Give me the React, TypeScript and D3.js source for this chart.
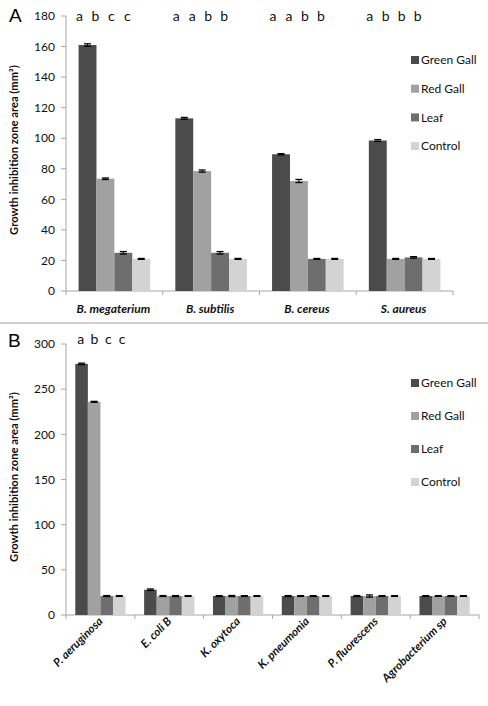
import React from 'react';
import * as d3 from 'd3';

const seriesNames = ['Green Gall', 'Red Gall', 'Leaf', 'Control'];
const seriesColors = ['#4b4b4b', '#a1a1a1', '#6e6e6e', '#d3d3d3'];

const categoriesA = ['B. megaterium', 'B. subtilis', 'B. cereus', 'S. aureus'];
const greenGallA = [161, 113, 89.5, 98.5];
const redGallA = [73.5, 78.5, 72, 21];
const leafA = [25, 25, 21, 22];
const controlA = [21, 21, 21, 21];
const greenGallErrA = [0.8, 0.6, 0.4, 0.6];
const redGallErrA = [0.5, 0.7, 1.0, 0.3];
const leafErrA = [0.8, 0.8, 0.3, 0.5];
const controlErrA = [0.3, 0.3, 0.3, 0.3];
const lettersA = [['a', 'b', 'c', 'c'], ['a', 'a', 'b', 'b'], ['a', 'a', 'b', 'b'], ['a', 'b', 'b', 'b']];
const ticksA = [0, 20, 40, 60, 80, 100, 120, 140, 160, 180];

const categoriesB = ['P. aeruginosa', 'E. coli B', 'K. oxytoca', 'K. pneumonia', 'P. fluorescens', 'Agrobacterium sp'];
const greenGallB = [278, 28, 21, 21, 21, 21];
const redGallB = [236, 21, 21, 21, 21, 21];
const leafB = [21, 21, 21, 21, 21, 21];
const controlB = [21, 21, 21, 21, 21, 21];
const greenGallErrB = [0.8, 0.8, 0.4, 0.5, 0.5, 0.4];
const redGallErrB = [0.5, 0.5, 0.6, 0.4, 1.2, 0.4];
const leafErrB = [0.5, 0.5, 0.4, 0.4, 0.4, 0.4];
const controlErrB = [0.4, 0.4, 0.4, 0.4, 0.4, 0.4];
const lettersB = [['a', 'b', 'c', 'c'], [], [], [], [], []];
const ticksB = [0, 50, 100, 150, 200, 250, 300];

const yTitle = 'Growth inhibition zone area (mm²)';
const FONT = 'Lato, "Open Sans", sans-serif';

type PanelProps = {
  label: string;
  labelY: number;
  categories: string[];
  values: number[][];
  errors: number[][];
  letters: string[][];
  ticks: number[];
  yMax: number;
  top: number;
  bottom: number;
  left: number;
  right: number;
  pad: number;
  letterY: number;
  letterDx: number;
  letterStep: number;
  rotateLabels: boolean;
  xLabelY: number;
  legendY: number;
  legendStep: number;
  titleY: number;
};

function Panel(p: PanelProps) {
  const x = d3.scaleBand<string>().domain(p.categories).range([p.left, p.right]).paddingInner(p.pad).paddingOuter(p.pad / 2);
  const xs = d3.scaleBand<string>().domain(seriesNames).range([0, x.bandwidth()]);
  const y = d3.scaleLinear().domain([0, p.yMax]).range([p.bottom, p.top]);
  const step = x.step();
  const axisColor = '#a6a6a6';
  return (
    <g>
      <text x={p.label === 'A' ? 9 : 8} y={p.labelY} fontFamily='"Liberation Sans", Arial, sans-serif' fontSize={19}>{p.label}</text>
      <line x1={p.left} x2={p.left} y1={p.top} y2={p.bottom} stroke={axisColor} />
      {p.ticks.map((t) => (
        <g key={t}>
          <line x1={p.left - 5} x2={p.left} y1={y(t)} y2={y(t)} stroke={axisColor} />
          <text x={p.left - 11} y={y(t)} dy="0.35em" textAnchor="end" fontFamily={FONT} fontSize={12} fill="#111">{t}</text>
        </g>
      ))}
      <line x1={p.left} x2={p.right} y1={p.bottom} y2={p.bottom} stroke={axisColor} />
      {d3.range(p.categories.length + 1).map((i) => (
        <line key={i} x1={p.left + i * step} x2={p.left + i * step} y1={p.bottom} y2={p.bottom + 4} stroke={axisColor} />
      ))}
      {p.categories.map((c, ci) => (
        <g key={c}>
          {seriesNames.map((s, si) => {
            const v = p.values[si][ci];
            const bx = (x(c) as number) + (xs(s) as number);
            const bw = xs.bandwidth();
            const e = p.errors[si][ci];
            const cx = bx + bw / 2;
            return (
              <g key={s}>
                <rect x={bx} y={y(v)} width={bw} height={p.bottom - y(v)} fill={seriesColors[si]} />
                <line x1={cx} x2={cx} y1={y(v + e)} y2={y(v - e)} stroke="#000" strokeWidth={1} />
                <line x1={cx - 3.5} x2={cx + 3.5} y1={y(v + e)} y2={y(v + e)} stroke="#000" strokeWidth={1.3} />
                <line x1={cx - 3.5} x2={cx + 3.5} y1={y(v - e)} y2={y(v - e)} stroke="#000" strokeWidth={1.3} />
              </g>
            );
          })}
          {p.letters[ci].map((l, li) => (
            <text key={li} x={(x(c) as number) + x.bandwidth() / 2 + p.letterDx + (li - 1.5) * p.letterStep} y={p.letterY} textAnchor="middle" fontFamily={FONT} fontSize={14} fill="#111">{l}</text>
          ))}
          {p.rotateLabels ? (
            <text transform={`translate(${(x(c) as number) + x.bandwidth() / 2 + 3},${p.xLabelY}) rotate(-45)`} textAnchor="end" fontFamily={FONT} fontSize={11.5} fontWeight="bold" fontStyle="italic" fill="#111">{c}</text>
          ) : (
            <text x={(x(c) as number) + x.bandwidth() / 2 - 1} y={p.xLabelY} textAnchor="middle" fontFamily={FONT} fontSize={12} fontWeight="bold" fontStyle="italic" fill="#111">{c}</text>
          )}
        </g>
      ))}
      {seriesNames.map((s, si) => (
        <g key={s}>
          <rect x={411} y={p.legendY + si * p.legendStep - 4} width={8} height={8} fill={seriesColors[si]} />
          <text x={421} y={p.legendY + si * p.legendStep} dy="0.35em" fontFamily={FONT} fontSize={12} fill="#111">{s}</text>
        </g>
      ))}
      <text transform={`translate(18,${p.titleY}) rotate(-90)`} textAnchor="middle" fontFamily={FONT} fontSize={11.2} fontWeight="bold" fill="#111">{yTitle}</text>
    </g>
  );
}

export default function App() {
  return (
    <svg width={488} height={706} style={{ position: 'absolute', left: 0, top: 0, background: '#fff' }}>
      <rect width={488} height={706} fill="#fff" />
      <Panel
        label="A" labelY={22}
        categories={categoriesA}
        values={[greenGallA, redGallA, leafA, controlA]}
        errors={[greenGallErrA, redGallErrA, leafErrA, controlErrA]}
        letters={lettersA}
        ticks={ticksA} yMax={180}
        top={16} bottom={291} left={66} right={453} pad={0.26}
        letterY={21} letterDx={-11} letterStep={16}
        rotateLabels={false} xLabelY={313}
        legendY={60} legendStep={28.7}
        titleY={150}
      />
      <line x1={0} x2={488} y1={323} y2={323} stroke="#cfcfcf" strokeWidth={2} />
      <Panel
        label="B" labelY={347}
        categories={categoriesB}
        values={[greenGallB, redGallB, leafB, controlB]}
        errors={[greenGallErrB, redGallErrB, leafErrB, controlErrB]}
        letters={lettersB}
        ticks={ticksB} yMax={300}
        top={344} bottom={615} left={66} right={479} pad={0.27}
        letterY={344} letterDx={1} letterStep={13.8}
        rotateLabels={true} xLabelY={622}
        legendY={383} legendStep={33}
        titleY={477}
      />
    </svg>
  );
}
